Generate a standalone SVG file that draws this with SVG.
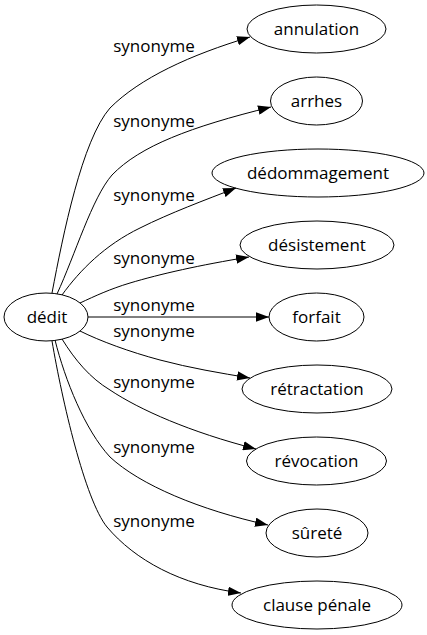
<svg xmlns="http://www.w3.org/2000/svg" width="427" height="635" viewBox="0 0 427 635">
<defs>
<marker id="arr" viewBox="0 0 13 9.4" refX="13" refY="4.7" markerWidth="13" markerHeight="9.4" markerUnits="userSpaceOnUse" orient="auto">
<path d="M0,0 L13,4.7 L0,9.4 z" fill="#000"/>
</marker>
<style>
.n ellipse{fill:none;stroke:#000;stroke-width:1}
.n text{font-family:"Open Sans","Noto Sans",sans-serif;font-size:17px;fill:#000;text-anchor:middle}
#edges path{fill:none;stroke:#000;stroke-width:1;marker-end:url(#arr)}
#edges text{font-family:"Open Sans","Noto Sans",sans-serif;font-size:17px;fill:#000;text-anchor:middle}
</style>
</defs>
<rect width="427" height="635" fill="#fff"/>
<g id="edges">
<path d="M52,293 C63,235 82,140 110,108 C140,78 190,55 250,37"/>
<path d="M57,294 C75,255 92,198 112,175 C140,146 190,127 271,107"/>
<path d="M62,295 C80,270 105,245 140,228 C170,213 205,200 236,188"/>
<path d="M80,303 C95,296 110,289 130,283 C160,274 200,265 249,257"/>
<path d="M88,317 L269,317"/>
<path d="M80,331 C100,341 130,352 160,360 C190,368 220,373 250,378"/>
<path d="M62,339 C75,360 90,378 110,390 C140,410 190,432 256,449"/>
<path d="M55,340 C65,380 85,430 110,457 C140,485 200,510 268,525"/>
<path d="M52,341 C62,400 85,500 107,527 C135,560 180,585 241,593"/>
<text x="154" y="52">synonyme</text>
<text x="154" y="127">synonyme</text>
<text x="154" y="201">synonyme</text>
<text x="154" y="264">synonyme</text>
<text x="154" y="311">synonyme</text>
<text x="154" y="337">synonyme</text>
<text x="154" y="388">synonyme</text>
<text x="154" y="453">synonyme</text>
<text x="154" y="527">synonyme</text>
</g>
<g id="dedit" class="n"><ellipse cx="46" cy="317" rx="42" ry="24"/><text x="47" y="323">dédit</text></g>
<g id="annulation" class="n"><ellipse cx="316.5" cy="29" rx="69.5" ry="24"/><text x="316.5" y="35">annulation</text></g>
<g id="arrhes" class="n"><ellipse cx="316.5" cy="101" rx="46" ry="24"/><text x="316.5" y="107">arrhes</text></g>
<g id="dedommagement" class="n"><ellipse cx="318" cy="173" rx="106" ry="24"/><text x="318" y="179">dédommagement</text></g>
<g id="desistement" class="n"><ellipse cx="317" cy="245" rx="77" ry="24"/><text x="317" y="251">désistement</text></g>
<g id="forfait" class="n"><ellipse cx="316.5" cy="317" rx="47.5" ry="24"/><text x="316.5" y="323">forfait</text></g>
<g id="retractation" class="n"><ellipse cx="317" cy="389" rx="75" ry="24"/><text x="317" y="395">rétractation</text></g>
<g id="revocation" class="n"><ellipse cx="316.5" cy="461" rx="70" ry="24"/><text x="316.5" y="467">révocation</text></g>
<g id="surete" class="n"><ellipse cx="317" cy="533" rx="51" ry="24"/><text x="317" y="539">sûreté</text></g>
<g id="clause" class="n"><ellipse cx="317" cy="605" rx="85" ry="24"/><text x="317" y="611">clause pénale</text></g>
</svg>
